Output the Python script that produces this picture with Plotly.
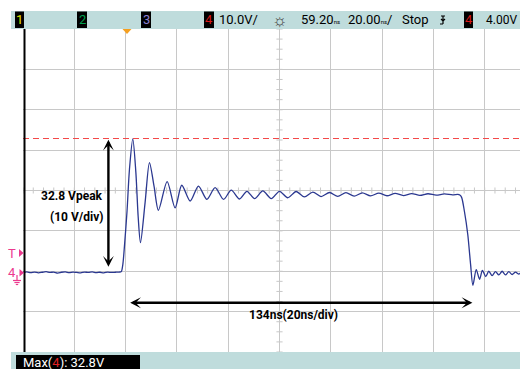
import plotly.graph_objects as go

# ---- channel 4 capture (time in ns, voltage in V) ----
T_NS = [0.0, 1.5, 3.0, 4.5, 6.0, 7.5, 9.0, 10.5, 12.0, 13.5, 15.0, 16.5, 18.0, 19.5,
        21.0, 22.5, 24.0, 25.5, 27.0, 28.5, 30.0, 31.5, 33.0, 34.5, 36.0, 37.5,
        38.3, 38.9, 39.6, 40.55, 41.5, 42.8, 44.0, 44.9, 45.8, 47.6, 49.3, 51.1,
        52.8, 56.2, 59.3, 61.9, 65.2, 68.4, 71.7, 74.9, 78.2, 81.2, 84.4, 87.3,
        90.3, 93.5, 96.8, 100.0, 103.2, 106.5, 109.7, 113.0, 116.2, 119.5, 122.7,
        125.9, 129.1, 132.3, 135.5, 138.7, 141.9, 145.1, 148.3, 151.5, 154.7,
        157.9, 161.1, 164.3, 167.5, 169.5, 170.3, 171.0, 172.1, 173.4, 174.5,
        175.4, 176.7, 178.0, 179.1, 180.4, 181.6, 182.9, 184.2, 185.5, 186.8,
        188.1, 189.4, 190.7, 192.0, 193.3, 194.0]
V_CH4 = [-0.30, -0.15, -0.35, -0.20, -0.40, -0.25, -0.10, -0.30, -0.20, -0.45, -0.25, -0.15, -0.35, -0.20,
         -0.30, -0.40, -0.20, -0.30, -0.15, -0.35, -0.25, -0.40, -0.20, -0.30, -0.25, -0.20,
         -0.10, 1.6, 6.6, 14.8, 25.2, 32.8, 24.5, 13.5, 7.1, 17.0, 26.9, 21.0,
         15.1, 22.2, 15.7, 21.3, 17.4, 21.1, 17.8, 20.7, 17.8, 20.1, 17.9, 19.8,
         18.0, 19.9, 18.0, 19.8, 18.2, 19.75, 18.4, 19.6, 18.5, 19.5, 18.55,
         19.45, 18.6, 19.4, 18.65, 19.35, 18.7, 19.3, 18.75, 19.25, 18.8,
         19.2, 18.85, 19.15, 18.9, 19.05, 18.9, 18.3, 14.8, 9.1, 1.7,
         -3.5, 0.4, -2.0, 0.2, -1.3, 0.0, -1.1, -0.1, -0.9, 0.0,
         -0.9, -0.1, -0.8, -0.2, -0.7, -0.4]

PEAK_V = 32.8          # measured maximum
REF_V = 32.88          # red reference cursor
SPAN_START_NS = 41.2   # width measurement start
SPAN_NS = 134          # measured width
VARROW_T = 33.3        # time position of the amplitude arrow
HARROW_V = -7.8        # voltage position of the width arrow

NS_PER_DIV = 20
V_PER_DIV = 10

# ---- page geometry ----
W, H = 520, 369
L, R, T, B = 23, 0, 29, 17
PW, PH = W - L - R, H - T - B
DIV_PX = 51.3
X_MAX = PW / DIV_PX * NS_PER_DIV
Y_RANGE = [-2 * V_PER_DIV, 6 * V_PER_DIV]


def px(x):
    return (x - L) / PW


def py(y):
    return (H - B - y) / PH


FONT = "Roboto, Liberation Sans, sans-serif"
GRID = "#c8c8c8"
PINK = "#ec3a8e"
BAR = "#bfdcdc"

fig = go.Figure()

# graticule minor ticks on the centre axes
cx = 5 * NS_PER_DIV
cy = 2 * V_PER_DIV
tx, ty = [], []
dv = V_PER_DIV / 4
v = Y_RANGE[0]
while v <= Y_RANGE[1] + 1e-9:
    tx += [cx - 1.2, cx + 1.2, None]
    ty += [v, v, None]
    v += dv
dt = NS_PER_DIV / 5
t = 0.0
while t <= X_MAX:
    tx += [t, t, None]
    ty += [cy - 0.75, cy + 0.75, None]
    t += dt
fig.add_trace(go.Scatter(x=tx, y=ty, mode="lines", line=dict(color=GRID, width=1),
                         hoverinfo="skip", showlegend=False))

# reference cursor
fig.add_trace(go.Scatter(x=[0, X_MAX], y=[REF_V, REF_V], mode="lines",
                         line=dict(color="#f44848", width=1.2, dash="6px,4px"),
                         hoverinfo="skip", showlegend=False))

# channel 4 waveform
fig.add_trace(go.Scatter(x=T_NS, y=V_CH4, mode="lines",
                         line=dict(color="#2b3890", width=1.3, shape="spline", smoothing=0.8),
                         showlegend=False))

shapes = []
# status bars
shapes.append(dict(type="rect", xref="paper", yref="paper", x0=px(11), x1=px(520),
                   y0=py(29), y1=py(11), fillcolor=BAR, line_width=0, layer="above"))
shapes.append(dict(type="rect", xref="paper", yref="paper", x0=px(11), x1=px(520),
                   y0=py(369), y1=py(352), fillcolor=BAR, line_width=0, layer="above"))
shapes.append(dict(type="rect", xref="paper", yref="paper", x0=px(16), x1=px(140),
                   y0=py(369), y1=py(355), fillcolor="black", line_width=0, layer="above"))
for x0, x1 in [(15, 24), (77, 87), (141, 151), (204, 214), (464, 473)]:
    shapes.append(dict(type="rect", xref="paper", yref="paper", x0=px(x0), x1=px(x1),
                       y0=py(28), y1=py(11.5), fillcolor="black", line_width=0, layer="above"))
# left border of the graticule
shapes.append(dict(type="line", xref="paper", yref="paper", x0=px(24.5), x1=px(24.5),
                   y0=py(352), y1=py(29), line=dict(color="black", width=2)))
# trigger position marker
shapes.append(dict(type="path", xref="paper", yref="paper",
                   path=f"M {px(122.5)},{py(29)} L {px(131.5)},{py(29)} L {px(127)},{py(34)} Z",
                   fillcolor="#f5a020", line_width=0, layer="above"))
# left side markers (trigger level and channel 4 ground)
shapes.append(dict(type="path", xref="paper", yref="paper",
                   path=f"M {px(19)},{py(249)} L {px(23.5)},{py(253)} L {px(19)},{py(257)} Z",
                   fillcolor=PINK, line_width=0))
shapes.append(dict(type="path", xref="paper", yref="paper",
                   path=f"M {px(19.5)},{py(269)} L {px(24)},{py(272.8)} L {px(19.5)},{py(276.5)} Z",
                   fillcolor=PINK, line_width=0))
shapes.append(dict(type="line", xref="paper", yref="paper", x0=px(17), x1=px(17),
                   y0=py(275), y1=py(280), line=dict(color=PINK, width=1.2)))
for yy, hw in [(280.5, 4), (282.5, 2.6), (284.5, 1.2)]:
    shapes.append(dict(type="line", xref="paper", yref="paper", x0=px(17 - hw), x1=px(17 + hw),
                       y0=py(yy), y1=py(yy), line=dict(color=PINK, width=1.2)))
# trigger slope icon
shapes.append(dict(type="path", xref="paper", yref="paper",
                   path=(f"M {px(441)},{py(16)} L {px(445)},{py(16)} M {px(443)},{py(16)} "
                         f"L {px(443)},{py(24)} M {px(440)},{py(24)} L {px(443)},{py(24)} "
                         f"M {px(441)},{py(19)} L {px(443)},{py(21)} L {px(445)},{py(19)}"),
                   line=dict(color="black", width=1.2)))

ann = []


def label(x, y, text, size=13, color="black", anchor="left", bold=False):
    if bold:
        text = f"<b>{text}</b>"
    ann.append(dict(xref="paper", yref="paper", x=px(x), y=py(y), text=text,
                    showarrow=False, xanchor=anchor, yanchor="middle",
                    font=dict(family=FONT, size=size, color=color)))


# top status line
label(19.5, 20, "1", color="#e6e600", anchor="center")
label(82, 20, "2", color="#00a050", anchor="center")
label(146, 20, "3", color="#8a80d0", anchor="center")
label(209, 20, "4", color="#d81818", anchor="center")
label(217, 20, "10.0V/")
label(279.5, 19.5, "☼", size=17, color="#444444", anchor="center")
label(299, 20, "59.20<span style='font-size:6px'>ns</span>")
label(346, 20, "20.00<span style='font-size:6px'>ns</span>/")
label(400, 20, "Stop")
label(468.5, 20, "4", color="#d81818", anchor="center")
label(519, 20, "4.00V", size=12, anchor="right")
# measurement readout
label(21, 362, "Max(<span style='color:#e02020'>4</span>): 32.8V", size=13, color="white")
# side markers
label(11.5, 253, "T", size=13, color=PINK, anchor="center")
label(11.5, 272.5, "4", size=13, color=PINK, anchor="center")
# measurement labels
label(104.5, 196, "32.8 Vpeak", size=12, anchor="right", bold=True)
label(104.5, 216.5, "(10 V/div)", size=12, anchor="right", bold=True)
label(293, 315, "134ns(20ns/div)", size=12, anchor="center", bold=True)

# double-headed measurement arrows
ann.append(dict(xref="x", yref="y", axref="x", ayref="y",
                x=VARROW_T, y=PEAK_V, ax=VARROW_T, ay=0,
                text="", showarrow=True, arrowside="end+start",
                arrowhead=3, startarrowhead=3, arrowsize=0.75, startarrowsize=0.75,
                arrowwidth=2.4, arrowcolor="black", standoff=1, startstandoff=3))
ann.append(dict(xref="x", yref="y", axref="x", ayref="y",
                x=SPAN_START_NS + SPAN_NS, y=HARROW_V, ax=SPAN_START_NS, ay=HARROW_V,
                text="", showarrow=True, arrowside="end+start",
                arrowhead=3, startarrowhead=3, arrowsize=0.75, startarrowsize=0.75,
                arrowwidth=2.4, arrowcolor="black", standoff=0, startstandoff=0))

fig.update_layout(
    width=W, height=H, autosize=False,
    margin=dict(l=L, r=R, t=T, b=B, pad=0),
    paper_bgcolor="white", plot_bgcolor="white",
    shapes=shapes, annotations=ann, showlegend=False,
    xaxis=dict(range=[0, X_MAX], dtick=NS_PER_DIV, tick0=0, showgrid=True, gridcolor=GRID,
               gridwidth=1, zeroline=False, showticklabels=False, ticks="", showline=False,
               fixedrange=True),
    yaxis=dict(range=Y_RANGE, dtick=V_PER_DIV, tick0=0, showgrid=True, gridcolor=GRID,
               gridwidth=1, zeroline=False, showticklabels=False, ticks="", showline=False,
               fixedrange=True),
)

fig.write_html("out.html", config={"displayModeBar": False})
